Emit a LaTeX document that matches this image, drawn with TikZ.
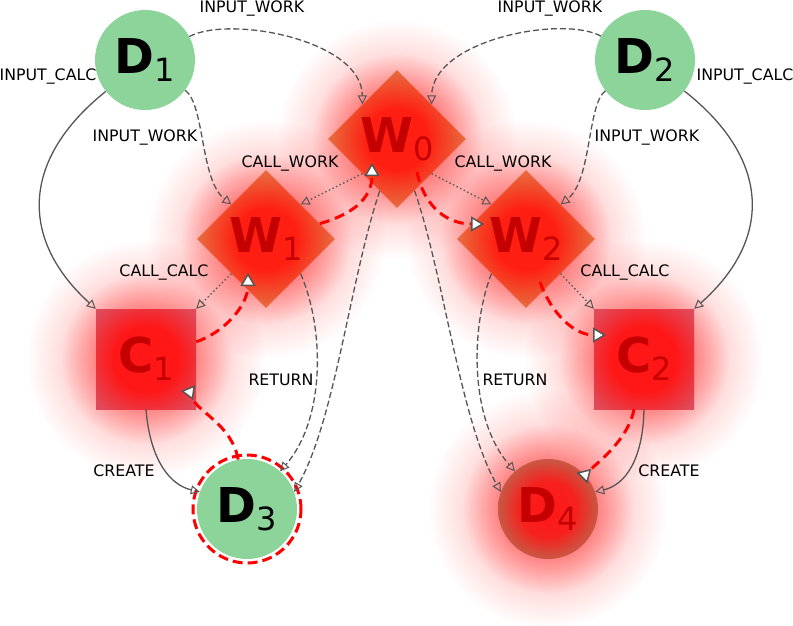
\documentclass[tikz,border=0pt]{standalone}
\usepackage{fontspec}
\setmainfont{DejaVu Sans}
\usepackage{tikz}
\usetikzlibrary{arrows.meta,calc,shapes.geometric,fadings,backgrounds}

\definecolor{dgreen}{HTML}{8DD49B}
\definecolor{wred}{HTML}{FF1E12}
\definecolor{worange}{HTML}{E8683C}
\definecolor{cred}{HTML}{FF1616}
\definecolor{cpink}{HTML}{E04A5A}
\definecolor{dbrown}{HTML}{A88060}
\definecolor{dred}{HTML}{C40000}
\definecolor{edgegray}{HTML}{555555}

\tikzfading[name=glowfade, inner color=transparent!0, outer color=transparent!100]
\pgfdeclareradialshading{wshade}{\pgfpointorigin}{color(0bp)=(wred); color(11bp)=(wred); color(24bp)=(worange); color(50bp)=(worange)}
\pgfdeclareradialshading{cshade}{\pgfpointorigin}{color(0bp)=(cred); color(16bp)=(cred); color(33bp)=(cpink); color(50bp)=(cpink)}
\pgfdeclareradialshading{dshade}{\pgfpointorigin}{color(0bp)=(cred); color(14bp)=(cred!90!dbrown); color(33bp)=(dbrown); color(50bp)=(dbrown)}

\newcommand{\nid}[2]{{\fontsize{48}{48}\selectfont\bfseries #1}\raisebox{-8pt}{\fontsize{32}{32}\selectfont #2}}

\begin{document}
\begin{tikzpicture}[
  x=1pt, y=-1pt,
  font=\fontsize{15.8}{18}\selectfont,
  datanode/.style={circle, fill=dgreen, minimum size=100pt, inner sep=0pt},
  worknode/.style={diamond, aspect=1, minimum size=138pt, inner sep=0pt, shading=wshade, text=dred},
  calcnode/.style={rectangle, minimum size=100pt, inner sep=0pt, shading=cshade, text=dred},
  hotdata/.style={circle, minimum size=100pt, inner sep=0pt, shading=dshade, text=dred},
  glow/.style={fill=red, path fading=glowfade},
  ring/.style={draw=red, line width=3pt, dash pattern=on 10pt off 5pt},
  lbl/.style={inner sep=0pt, anchor=base},
  flow/.style={draw=edgegray, line width=1.3pt, -{Triangle[open, length=9pt, width=9pt, line width=1pt]}},
  ret/.style={flow, dash pattern=on 6pt off 3pt},
  call/.style={flow, dash pattern=on 1.5pt off 2.5pt},
  hot/.style={draw=red, line width=3pt, dash pattern=on 10pt off 6pt, -{Triangle[length=13pt, width=15pt, fill=white, color=edgegray, line width=1.5pt]}},
  hotback/.style={hot, -{Triangle[reversed, length=13pt, width=15pt, fill=white, color=edgegray, line width=1.5pt]}},
]
  \useasboundingbox (0,0) rectangle (793,625);

  \node[datanode] (D1) at (145,60) {\nid{D}{1}};
  \node[datanode] (D2) at (645,60) {\nid{D}{2}};
  \node[worknode] (W0) at (397,139) {\nid{W}{0}};
  \node[worknode] (W1) at (266,239) {\nid{W}{1}};
  \node[worknode] (W2) at (526,239) {\nid{W}{2}};
  \node[calcnode] (C1) at (146,359) {\nid{C}{1}};
  \node[calcnode] (C2) at (644,359) {\nid{C}{2}};
  \node[datanode] (D3) at (247,509) {\nid{D}{3}};
  \node[hotdata] (D4) at (548,509) {\nid{D}{4}};

  \begin{scope}[on background layer]
    \fill[white] (0,0) rectangle (793,625);
    \foreach \n in {W0,W1,W2,C1,C2,D4} {
      \fill[glow, opacity=0.45] (\n) circle[radius=120pt];
      \fill[glow, opacity=0.7] (\n) circle[radius=85pt];
    }
  \end{scope}

  \draw[ring] (D3) circle[radius=54pt];

  % inputs
  \draw[ret] (D1) .. controls (230,15) and (362,40) .. (W0.north west);
  \draw[ret] (D2) .. controls (562,15) and (432,40) .. (W0.north east);
  \draw[ret] (D1) .. controls (205,105) and (200,180) .. (W1.north west);
  \draw[ret] (D2) .. controls (587,105) and (592,180) .. (W2.north east);
  \draw[flow] (D1) .. controls (20,160) and (20,240) .. (C1.north west);
  \draw[flow] (D2) .. controls (772,160) and (772,240) .. (C2.north east);

  % calls
  \draw[call] (W0.south west) -- (W1.north east);
  \draw[call] (W0.south east) -- (W2.north west);
  \draw[call] (W1.south west) -- (C1.north east);
  \draw[call] (W2.south east) -- (C2.north west);

  % returns and creates
  \draw[ret] (W1.south east) .. controls (325,330) and (325,420) .. (D3);
  \draw[ret] (W0) .. controls (350,280) and (335,420) .. (D3.20);
  \draw[ret] (W0) .. controls (445,280) and (460,420) .. (D4.160);
  \draw[ret] (W2.south west) .. controls (470,330) and (470,420) .. (D4);
  \draw[flow] (C1.south) .. controls (150,460) and (170,485) .. (D3.160);
  \draw[flow] (C2.south) .. controls (643,460) and (625,485) .. (D4.20);

  \node[lbl] (lIW1) at (252,12) {INPUT\_WORK};
  \node[lbl] (lIW2) at (550,12) {INPUT\_WORK};
  \node[lbl] (lIC1) at (48,80) {INPUT\_CALC};
  \node[lbl] (lIC2) at (745,80) {INPUT\_CALC};
  \node[lbl] (lIW3) at (145,141) {INPUT\_WORK};
  \node[lbl] (lIW4) at (647,141) {INPUT\_WORK};
  \node[lbl] (lCW1) at (290,167) {CALL\_WORK};
  \node[lbl] (lCW2) at (503,167) {CALL\_WORK};
  \node[lbl] (lCC1) at (164,276) {CALL\_CALC};
  \node[lbl] (lCC2) at (625,276) {CALL\_CALC};
  \node[lbl] (lR1) at (281,385) {RETURN};
  \node[lbl] (lR2) at (515,385) {RETURN};
  \node[lbl] (lCR1) at (124,476) {CREATE};
  \node[lbl] (lCR2) at (669,476) {CREATE};

  % hot path
  \draw[hot] (W1) .. controls (350,215) and (372,200) .. ($(W0.center)+(-25,24)$);
  \draw[hot] (C1) .. controls (225,332) and (248,305) .. ($(W1.center)+(-18,34)$);
  \draw[hotback] (D3) .. controls (232,425) and (198,412) .. ($(C1.center)+(42,29)$);
  \draw[hot] ($(W0.center)+(20,33)$) .. controls (425,210) and (450,224) .. ($(W2.center)+(-42,-15)$);
  \draw[hot] ($(W2.center)+(14,43)$) .. controls (552,315) and (575,335) .. ($(C2.center)+(-38,-24)$);
  \draw[hotback] (C2) .. controls (628,440) and (598,462) .. ($(D4.center)+(34,-31)$);
\end{tikzpicture}
\end{document}
